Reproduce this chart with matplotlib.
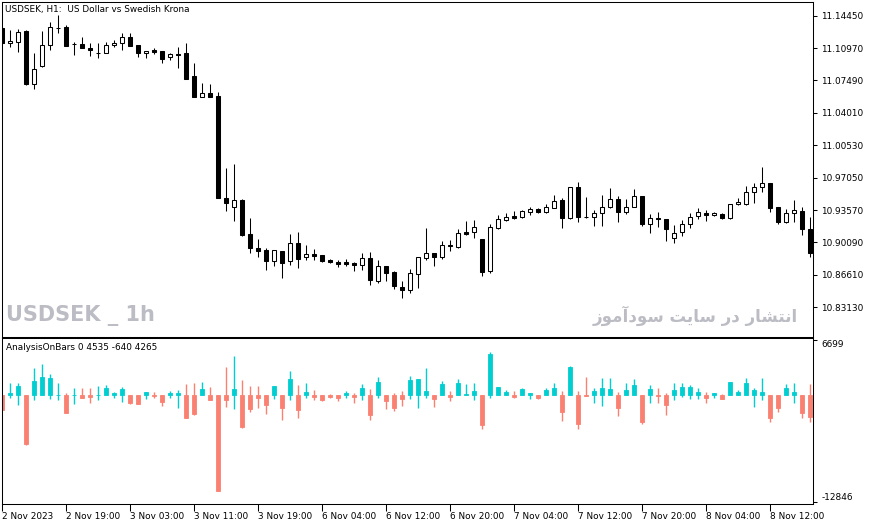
import matplotlib
matplotlib.use("Agg")
import matplotlib.pyplot as plt
import numpy as np

# ============================================================
# Data (USDSEK H1)
# ============================================================

opens = [11.13129, 11.11517, 11.11625, 11.12806, 11.07114, 11.09047, 11.11303, 11.13129, 11.13236, 11.11410,
         11.11410, 11.10980, 11.10476, 11.10443, 11.11303, 11.11517, 11.12162, 11.11303, 11.10443, 11.10766,
         11.10658, 11.10014, 11.10336, 11.10443, 11.07973, 11.05717, 11.06147, 11.05825, 10.94869, 10.93902,
         10.94654, 10.91002, 10.89498, 10.89284, 10.88102, 10.89176, 10.88102, 10.90035, 10.88532, 10.88854,
         10.88746, 10.88209, 10.87995, 10.87995, 10.87887, 10.87672, 10.88424, 10.85954, 10.87565, 10.86921,
         10.85309, 10.84987, 10.86706, 10.88424, 10.88961, 10.88532, 10.89821, 10.89606, 10.91217, 10.91217,
         10.90465, 10.87028, 10.91647, 10.92506, 10.92935, 10.92828, 10.93365, 10.93687, 10.93365, 10.93795,
         10.94654, 10.92721, 10.96050, 10.92828, 10.92828, 10.93258, 10.93902, 10.94761, 10.93365, 10.93902,
         10.95084, 10.92076, 10.92721, 10.92613, 10.90572, 10.91217, 10.92076, 10.92935, 10.93258, 10.93043,
         10.93150, 10.92721, 10.94224, 10.94224, 10.95513, 10.96050, 10.96480, 10.93902, 10.92291, 10.93258,
         10.93473, 10.91539]
highs = [11.13236, 11.12914, 11.13021, 11.12914, 11.10443, 11.12806, 11.13773, 11.14525, 11.13451, 11.11625,
         11.12162, 11.11517, 11.11517, 11.11625, 11.11840, 11.12592, 11.12592, 11.11303, 11.10658, 11.10980,
         11.10658, 11.10443, 11.11088, 11.11517, 11.09369, 11.07221, 11.07114, 11.06254, 10.98091, 10.98521,
         10.94761, 10.92721, 10.90465, 10.89498, 10.89284, 10.89176, 10.91002, 10.91217, 10.89821, 10.89391,
         10.88746, 10.88317, 10.88209, 10.88317, 10.87995, 10.88961, 10.89069, 10.88209, 10.87565, 10.87028,
         10.85954, 10.87243, 10.88532, 10.91647, 10.88961, 10.90250, 10.90358, 10.91539, 10.92398, 10.92506,
         10.90465, 10.92076, 10.93043, 10.93258, 10.93473, 10.93580, 10.93902, 10.93795, 10.94224, 10.95191,
         10.94869, 10.96050, 10.96587, 10.94976, 10.93580, 10.95191, 10.95943, 10.95084, 10.94761, 10.95836,
         10.95084, 10.93150, 10.93365, 10.92613, 10.91969, 10.92506, 10.93258, 10.93795, 10.93580, 10.93365,
         10.93258, 10.94224, 10.94869, 10.96158, 10.96480, 10.98199, 10.96480, 10.93902, 10.93687, 10.94654,
         10.93902, 10.92828]
lows = [11.11517, 11.11088, 11.10551, 11.07006, 11.06577, 11.08940, 11.10766, 11.12592, 11.11195, 11.10228,
        11.10980, 11.10121, 11.09906, 11.10443, 11.11088, 11.10766, 11.11195, 11.10014, 11.09906, 11.10336,
        11.09369, 11.09691, 11.08832, 11.07651, 11.05717, 11.05717, 11.05717, 10.94869, 10.93473, 10.92398,
        10.90787, 10.88961, 10.88532, 10.87135, 10.87565, 10.86276, 10.87672, 10.87350, 10.88209, 10.88209,
        10.87995, 10.87887, 10.87458, 10.87565, 10.87028, 10.87135, 10.85524, 10.85739, 10.85954, 10.85095,
        10.84128, 10.84665, 10.85202, 10.88209, 10.87565, 10.88317, 10.89176, 10.89498, 10.90895, 10.90572,
        10.86491, 10.86813, 10.91539, 10.92398, 10.92613, 10.92721, 10.93043, 10.93258, 10.93258, 10.93795,
        10.91647, 10.92613, 10.92291, 10.92774, 10.91861, 10.91861, 10.93795, 10.92291, 10.93150, 10.93902,
        10.91861, 10.91110, 10.91754, 10.90250, 10.90035, 10.90787, 10.91647, 10.92613, 10.92398, 10.92935,
        10.92613, 10.92613, 10.94117, 10.94117, 10.94332, 10.95513, 10.93365, 10.92076, 10.92184, 10.92291,
        10.90895, 10.88532]
closes = [11.11517, 11.11732, 11.12699, 11.07114, 11.08725, 11.11303, 11.13236, 11.13075, 11.11195, 11.11378,
          11.10980, 11.10766, 11.10443, 11.11303, 11.11517, 11.12162, 11.11195, 11.10443, 11.10658, 11.10551,
          11.09799, 11.10336, 11.10228, 11.07651, 11.05717, 11.06147, 11.05717, 10.94869, 10.94332, 10.94654,
          10.90895, 10.89498, 10.89176, 10.88102, 10.89284, 10.87887, 10.90035, 10.88317, 10.88854, 10.88639,
          10.88102, 10.87995, 10.87780, 10.87780, 10.87672, 10.88424, 10.86061, 10.87565, 10.86813, 10.85417,
          10.84987, 10.86813, 10.88532, 10.88961, 10.88532, 10.89821, 10.89713, 10.91110, 10.91002, 10.91754,
          10.86921, 10.91754, 10.92613, 10.92828, 10.92721, 10.93473, 10.93687, 10.93365, 10.93902, 10.94547,
          10.92721, 10.96050, 10.92828, 10.92796, 10.93258, 10.93902, 10.94761, 10.93365, 10.93902, 10.95084,
          10.92076, 10.92721, 10.92613, 10.91539, 10.91110, 10.92076, 10.92828, 10.93365, 10.93043, 10.93258,
          10.92721, 10.94224, 10.94439, 10.95513, 10.96050, 10.96480, 10.93795, 10.92291, 10.93258, 10.93580,
          10.91539, 10.88961]

# AnalysisOnBars indicator (bars start at 0)
ind_close = [-1770, 330, 1170, -5880, 1780, 2260, 2140, 60, -2090, 100,
             -350, -150, 60, 940, 330, 780, -960, -1040, 450, -60,
             -760, 330, 330, -2700, -2250, 740, -560, -11570, -560, 780,
             -3820, -1650, -280, -1160, 1140, -1490, 1980, -1770, 370, -190,
             -560, -230, -280, 250, -190, 940, -2370, 1660, -640, -1490,
             -440, 1860, 1980, 530, -440, 1380, -190, 1540, 170, 530,
             -3580, 5010, 1050, 370, -230, 780, 330, -350, 650, 940,
             -2000, 3470, -3510, -60, 530, 940, 780, -1490, 650, 1260,
             -3260, 780, -110, -1160, 650, 1050, 1050, 450, -280, 330,
             -470, 1660, 450, 1540, 650, 450, -2700, -1490, 940, 450,
             -2090, -2580]
ind_high = [0, 1540, 1460, 0, 3350, 3800, 2590, 1540, 250, 860,
            940, 860, 1170, 1260, 450, 1050, 0, 0, 450, 450,
            0, 570, 650, 1330, 1460, 1660, 1020, 0, 3470, 4800,
            1900, 1170, 1170, 0, 1140, 0, 2950, 1260, 1540, 650,
            0, 130, 0, 530, 290, 1380, 780, 2260, 0, 290,
            570, 2350, 1980, 3350, 0, 1740, 530, 1980, 1380, 1460,
            0, 5290, 1050, 650, 530, 940, 330, 0, 940, 1540,
            530, 3560, 530, 2260, 940, 2140, 2070, 370, 1540, 1980,
            0, 1260, 940, 250, 1540, 1540, 1260, 940, 370, 330,
            130, 1660, 650, 2140, 940, 2140, 0, 0, 1380, 1540,
            0, 1380]
ind_low = [-1770, -350, -1160, -6000, -560, 0, -440, -560, -2090, -1040,
           -350, -880, -560, 0, -350, -760, -1040, -1040, -440, -280,
           -1280, -280, -1490, -2700, -2370, 0, -560, -11570, -1370, -1690,
           -3900, -2050, -1490, -2250, -470, -2980, -560, -2700, -280, -560,
           -640, -350, -640, -280, -880, -560, -2980, -280, -1650, -1890,
           -1280, -440, -1490, -350, -1370, 0, -680, 0, 0, -560,
           -4070, -280, 0, 0, -350, 0, -440, -470, 0, 0,
           -3140, 0, -4110, -60, -880, -1280, 0, -2490, 0, 0,
           -3420, -880, -880, -2370, -560, -230, -440, -440, -880, -280,
           -470, 0, 0, 0, -1370, -560, -3180, -1970, 0, -880,
           -2700, -3180]

price_ticks = [11.14450, 11.10970, 11.07490, 11.04010, 11.00530,
               10.97050, 10.93570, 10.90090, 10.86610, 10.83130]
ind_ticks = [6699, -12846]
time_labels = ["2 Nov 2023", "2 Nov 19:00", "3 Nov 03:00", "3 Nov 11:00", "3 Nov 19:00",
               "6 Nov 04:00", "6 Nov 12:00", "6 Nov 20:00", "7 Nov 04:00", "7 Nov 12:00",
               "7 Nov 20:00", "8 Nov 04:00", "8 Nov 12:00"]
time_label_index = [0, 8, 16, 24, 32, 40, 48, 56, 64, 72, 80, 88, 96]

# ============================================================
# Figure layout (pixel based, MT5 style)
# ============================================================

W, H = 871, 525
fig = plt.figure(figsize=(W / 100, H / 100), dpi=100)
plt.rcParams["font.family"] = ["DejaVu Sans"]


def px_axes(left, top, right, bottom):
    return fig.add_axes([left / W, 1 - bottom / H, (right - left) / W, (bottom - top) / H])


ax = px_axes(2, 2, 813, 336.5)
axi = px_axes(2, 338.3, 813, 503.5)

x = np.arange(len(opens))
o = np.array(opens)
h = np.array(highs)
l = np.array(lows)
c = np.array(closes)
LW = 0.75

# ---- price candles
ax.vlines(x, l, h, color="black", linewidth=LW, zorder=1)
body_low = np.minimum(o, c)
body_h = np.abs(c - o)
face = ["white" if cc > oo else "black" for oo, cc in zip(o, c)]
ax.bar(x, body_h, bottom=body_low, width=0.56, color=face,
       edgecolor="black", linewidth=LW, zorder=2)

ax.set_xlim(0, 101.375)
ax.set_ylim(10.79993, 11.15921)
ax.set_xticks([])
ax.yaxis.tick_right()
ax.set_yticks(price_ticks)
ax.set_yticklabels([f"{t:.5f}" for t in price_ticks])
ax.tick_params(axis="y", direction="out", length=3, width=LW, pad=3, labelsize=6.4)

# ---- indicator bars
ic = np.array(ind_close)
ih = np.array(ind_high)
il = np.array(ind_low)
ind_col = ["#00CED1" if v > 0 else "#FA8072" for v in ic]
axi.vlines(x, il, ih, colors=ind_col, linewidth=1.0, zorder=1)
axi.bar(x, ic, bottom=0, width=0.56, color=ind_col, edgecolor=ind_col,
        linewidth=0.6, zorder=2)

axi.set_xlim(0, 101.375)
axi.set_ylim(-13080, 6909)
axi.yaxis.tick_right()
axi.set_yticks(ind_ticks)
axi.set_yticklabels([str(t) for t in ind_ticks])
axi.tick_params(axis="y", direction="out", length=3, width=LW, pad=3, labelsize=6.4)
ylabs = axi.get_yticklabels()
ylabs[0].set_va("top")
ylabs[1].set_va("bottom")

axi.set_xticks(time_label_index)
axi.set_xticklabels(time_labels)
axi.tick_params(axis="x", direction="out", length=5, width=LW, pad=1, labelsize=6.4)
for lab in axi.get_xticklabels():
    lab.set_ha("left")

for a in (ax, axi):
    for s in a.spines.values():
        s.set_linewidth(LW)
        s.set_color("black")

# ---- texts
fig.text(5 / W, 1 - 9.5 / H, "USDSEK, H1:  US Dollar vs Swedish Krona",
         fontsize=6.4, va="center", ha="left")
fig.text(6 / W, 1 - 347.5 / H, "AnalysisOnBars 0 4535 -640 4265",
         fontsize=6.4, va="center", ha="left")

fig.text(6 / W, 1 - 315 / H, "USDSEK _ 1h", fontsize=15, fontweight="bold",
         family=["Liberation Sans Narrow", "DejaVu Sans"],
         color="#bcbcc4", va="center", ha="left")

# Persian watermark, shaped into presentation forms and put in visual order
fa_logical = ("\ufe8d\ufee7\ufe98\ufeb8\ufe8e\ufead" + " " + "\ufea9\ufead" + " "
              + "\ufeb3\ufe8e\ufef3\ufe96" + " "
              + "\ufeb3\ufeee\ufea9\ufe81\ufee3\ufeee\ufeaf")
fig.text(798 / W, 1 - 316 / H, fa_logical[::-1], fontsize=12, fontweight="bold",
         color="#bcbcc4", va="center", ha="right")

fig.savefig("out.png", dpi=100)
